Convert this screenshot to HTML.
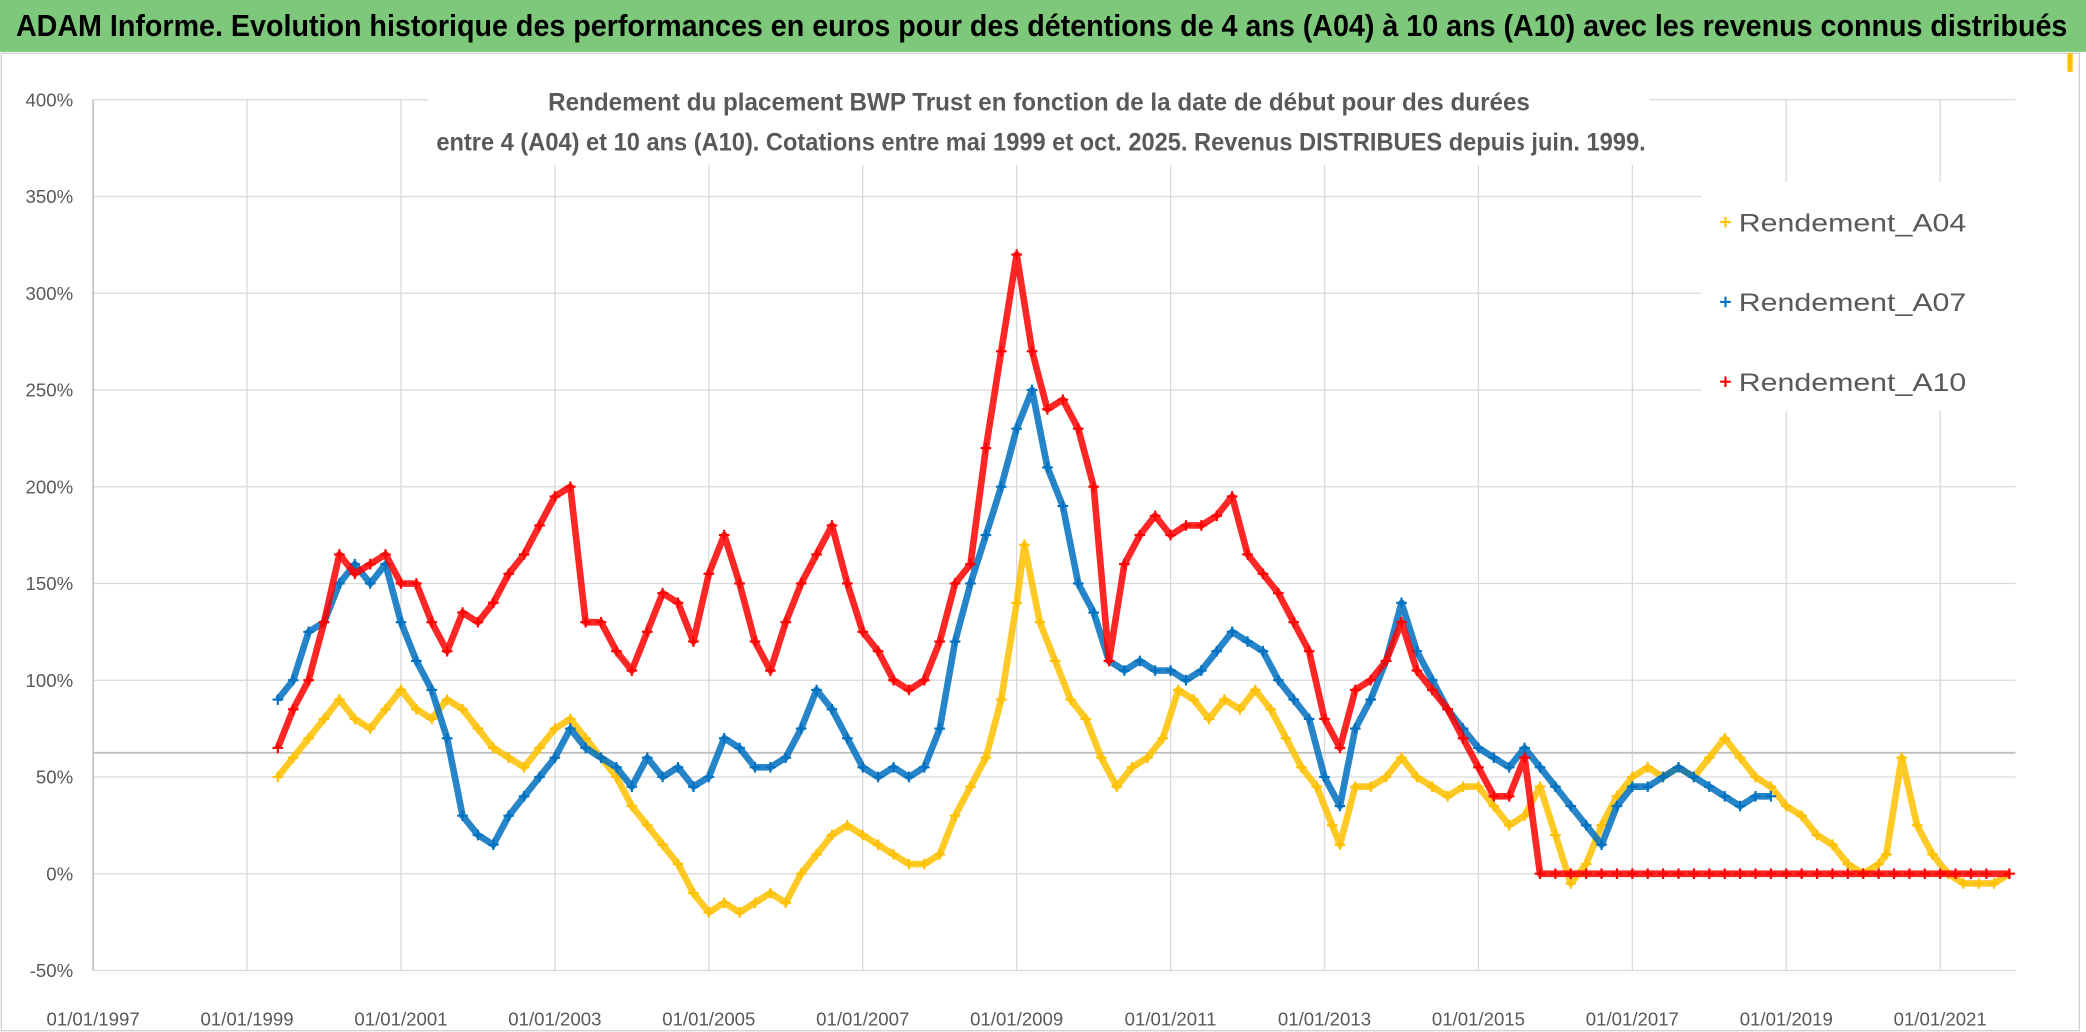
<!DOCTYPE html>
<html><head><meta charset="utf-8"><style>
html,body{margin:0;padding:0;background:#fff;}
svg{display:block;font-family:"Liberation Sans Narrow","Liberation Sans",sans-serif;}
</style></head><body>
<svg id="chart" width="2086" height="1032" viewBox="0 0 1568 776" preserveAspectRatio="none" xmlns="http://www.w3.org/2000/svg">
<rect x="0" y="0" width="1568" height="776" fill="#fff"/>
<rect x="0" y="0" width="1568" height="39" fill="#7ec87c"/>
<text x="12" y="27" font-size="23" font-weight="bold" fill="#000" textLength="1542" lengthAdjust="spacingAndGlyphs">ADAM Informe. Evolution historique des performances en euros pour des détentions de 4 ans (A04) à 10 ans (A10) avec les revenus connus distribués</text>
<rect x="1" y="40" width="1562" height="735" fill="none" stroke="#d0d0d0" stroke-width="1"/>
<rect x="1554" y="40" width="4" height="14" fill="#ffc000"/>
<g id="grid"></g>
<g id="series"></g>
<rect x="322" y="58" width="918" height="66" fill="#fff"/>
<text x="412" y="83" font-size="19" font-weight="bold" fill="#595959" textLength="738" lengthAdjust="spacingAndGlyphs">Rendement du placement BWP Trust en fonction de la date de début pour des durées</text>
<text x="328" y="113" font-size="19" font-weight="bold" fill="#595959" textLength="909" lengthAdjust="spacingAndGlyphs">entre 4 (A04) et 10 ans (A10). Cotations entre mai 1999 et oct. 2025. Revenus DISTRIBUES depuis juin. 1999.</text>
<rect x="1279" y="137" width="236" height="172" fill="#fff"/>
<g>
<path d="M1293 167h8M1297 163v8" stroke="#ffc000" stroke-width="1.6"/>
<text x="1307" y="174" font-size="19" fill="#595959" textLength="171" lengthAdjust="spacingAndGlyphs">Rendement_A04</text></g>
<g>
<path d="M1293 227h8M1297 223v8" stroke="#0070c0" stroke-width="1.6"/>
<text x="1307" y="234" font-size="19" fill="#595959" textLength="171" lengthAdjust="spacingAndGlyphs">Rendement_A07</text></g>
<g>
<path d="M1293 287h8M1297 283v8" stroke="#ff0000" stroke-width="1.6"/>
<text x="1307" y="294" font-size="19" fill="#595959" textLength="171" lengthAdjust="spacingAndGlyphs">Rendement_A10</text></g>
</svg>
<script>
const xTickYears = [1997,1999,2001,2003,2005,2007,2009,2011,2013,2015,2017,2019,2021];
const yTicks = [-50,0,50,100,150,200,250,300,350,400];
const refLineValue = 62.5;
const datesA04 = [1999.4,1999.6,1999.8,2000.0,2000.2,2000.4,2000.6,2000.8,2001.0,2001.2,2001.4,2001.6,2001.8,2002.0,2002.2,2002.4,2002.6,2002.8,2003.0,2003.2,2003.4,2003.6,2003.8,2004.0,2004.2,2004.4,2004.6,2004.8,2005.0,2005.2,2005.4,2005.6,2005.8,2006.0,2006.2,2006.4,2006.6,2006.8,2007.0,2007.2,2007.4,2007.6,2007.8,2008.0,2008.2,2008.4,2008.6,2008.8,2009.0,2009.1,2009.3,2009.5,2009.7,2009.9,2010.1,2010.3,2010.5,2010.7,2010.9,2011.1,2011.3,2011.5,2011.7,2011.9,2012.1,2012.3,2012.5,2012.7,2012.9,2013.1,2013.2,2013.4,2013.6,2013.8,2014.0,2014.2,2014.4,2014.6,2014.8,2015.0,2015.2,2015.4,2015.6,2015.8,2016.0,2016.2,2016.4,2016.6,2016.8,2017.0,2017.2,2017.4,2017.6,2017.8,2018.0,2018.2,2018.4,2018.6,2018.8,2019.0,2019.2,2019.4,2019.6,2019.8,2020.0,2020.2,2020.3,2020.5,2020.7,2020.9,2021.1,2021.3,2021.5,2021.7,2021.9];
const valuesA04 = [50,60,70,80,90,80,75,85,95,85,80,90,85,75,65,60,55,65,75,80,70,60,50,35,25,15,5,-10,-20,-15,-20,-15,-10,-15,0,10,20,25,20,15,10,5,5,10,30,45,60,90,140,170,130,110,90,80,60,45,55,60,70,95,90,80,90,85,95,85,70,55,45,25,15,45,45,50,60,50,45,40,45,45,35,25,30,45,20,-5,5,25,40,50,55,50,55,50,60,70,60,50,45,35,30,20,15,5,0,5,10,60,25,10,0,-5,-5,-5,0];
const datesA07 = [1999.4,1999.6,1999.8,2000.0,2000.2,2000.4,2000.6,2000.8,2001.0,2001.2,2001.4,2001.6,2001.8,2002.0,2002.2,2002.4,2002.6,2002.8,2003.0,2003.2,2003.4,2003.6,2003.8,2004.0,2004.2,2004.4,2004.6,2004.8,2005.0,2005.2,2005.4,2005.6,2005.8,2006.0,2006.2,2006.4,2006.6,2006.8,2007.0,2007.2,2007.4,2007.6,2007.8,2008.0,2008.2,2008.4,2008.6,2008.8,2009.0,2009.2,2009.4,2009.6,2009.8,2010.0,2010.2,2010.4,2010.6,2010.8,2011.0,2011.2,2011.4,2011.6,2011.8,2012.0,2012.2,2012.4,2012.6,2012.8,2013.0,2013.2,2013.4,2013.6,2013.8,2014.0,2014.2,2014.4,2014.6,2014.8,2015.0,2015.2,2015.4,2015.6,2015.8,2016.0,2016.2,2016.4,2016.6,2016.8,2017.0,2017.2,2017.4,2017.6,2017.8,2018.0,2018.2,2018.4,2018.6,2018.8];
const valuesA07 = [90,100,125,130,150,160,150,160,130,110,95,70,30,20,15,30,40,50,60,75,65,60,55,45,60,50,55,45,50,70,65,55,55,60,75,95,85,70,55,50,55,50,55,75,120,150,175,200,230,250,210,190,150,135,110,105,110,105,105,100,105,115,125,120,115,100,90,80,50,35,75,90,110,140,115,100,85,75,65,60,55,65,55,45,35,25,15,35,45,45,50,55,50,45,40,35,40,40];
const datesA10 = [1999.4,1999.6,1999.8,2000.0,2000.2,2000.4,2000.6,2000.8,2001.0,2001.2,2001.4,2001.6,2001.8,2002.0,2002.2,2002.4,2002.6,2002.8,2003.0,2003.2,2003.4,2003.6,2003.8,2004.0,2004.2,2004.4,2004.6,2004.8,2005.0,2005.2,2005.4,2005.6,2005.8,2006.0,2006.2,2006.4,2006.6,2006.8,2007.0,2007.2,2007.4,2007.6,2007.8,2008.0,2008.2,2008.4,2008.6,2008.8,2009.0,2009.2,2009.4,2009.6,2009.8,2010.0,2010.2,2010.4,2010.6,2010.8,2011.0,2011.2,2011.4,2011.6,2011.8,2012.0,2012.2,2012.4,2012.6,2012.8,2013.0,2013.2,2013.4,2013.6,2013.8,2014.0,2014.2,2014.4,2014.6,2014.8,2015.0,2015.2,2015.4,2015.6,2015.8,2016.0,2016.2,2016.4,2016.6,2016.8,2017.0,2017.2,2017.4,2017.6,2017.8,2018.0,2018.2,2018.4,2018.6,2018.8,2019.0,2019.2,2019.4,2019.6,2019.8,2020.0,2020.2,2020.4,2020.6,2020.8,2021.0,2021.2,2021.4,2021.6,2021.9];
const valuesA10 = [65,85,100,130,165,155,160,165,150,150,130,115,135,130,140,155,165,180,195,200,130,130,115,105,125,145,140,120,155,175,150,120,105,130,150,165,180,150,125,115,100,95,100,120,150,160,220,270,320,270,240,245,230,200,110,160,175,185,175,180,180,185,195,165,155,145,130,115,80,65,95,100,110,130,105,95,85,70,55,40,40,60,0,0,0,0,0,0,0,0,0,0,0,0,0,0,0,0,0,0,0,0,0,0,0,0,0,0,0,0,0,0,0];

const NS = "http://www.w3.org/2000/svg";
const X0 = 70, PXPERYEAR = 57.85, Y0 = 657, PXPER50 = 72.75;
function xScale(yr){ return X0 + (yr - 1997) * PXPERYEAR; }
function yScale(v){ return Y0 - v / 50 * PXPER50; }
function mk(tag, attrs, parent){
  const e = document.createElementNS(NS, tag);
  for (const k in attrs) e.setAttribute(k, attrs[k]);
  parent.appendChild(e); return e;
}
const grid = document.getElementById('grid');
const plotRight = 1515;
yTicks.forEach(v => {
  const y = yScale(v);
  const l = mk('line', {x1: X0, x2: plotRight, y1: y, y2: y, stroke: '#d9d9d9', 'stroke-width': 1}, grid);
  
  
  const t = mk('text', {x: 55, y: y + 5, 'text-anchor': 'end', 'font-size': 14, fill: '#595959'}, grid);
  t.textContent = v + '%';
  
  
});
xTickYears.forEach(yr => {
  const x = xScale(yr);
  const l = mk('line', {x1: x, x2: x, y1: yScale(400), y2: yScale(-50), stroke: '#d9d9d9', 'stroke-width': 1}, grid);
  
  
  const t = mk('text', {x: x, y: 771, 'text-anchor': 'middle', 'font-size': 14, fill: '#595959'}, grid);
  t.textContent = '01/01/' + yr;
  
  
});
const axis = mk('line', {x1: X0, x2: X0, y1: yScale(400), y2: yScale(-50), stroke: '#bfbfbf', 'stroke-width': 1.2}, grid);


const ref = mk('line', {x1: X0, x2: plotRight, y1: yScale(refLineValue), y2: yScale(refLineValue), stroke: '#bfbfbf', 'stroke-width': 1.4}, grid);



const seriesG = document.getElementById('series');
function drawSeries(dates, vals, color, name){
  const g = mk('g', {}, seriesG);
  
  
  const pts = dates.map((d, i) => xScale(d).toFixed(1) + ',' + yScale(vals[i]).toFixed(1)).join(' ');
  mk('polyline', {points: pts, fill: 'none', stroke: color, 'stroke-width': 5, 'stroke-linejoin': 'round', 'stroke-opacity': 0.85}, g);
  dates.forEach((d, i) => {
    const x = xScale(d), y = yScale(vals[i]);
    const p = mk('path', {d: `M${x-4} ${y}h8M${x} ${y-4}v8`, stroke: color, 'stroke-width': 1.6}, g);
    
    
  });
}
drawSeries(datesA04, valuesA04, '#ffc000', 'series-a04');
drawSeries(datesA07, valuesA07, '#0070c0', 'series-a07');
drawSeries(datesA10, valuesA10, '#ff0000', 'series-a10');
</script>
</body></html>
